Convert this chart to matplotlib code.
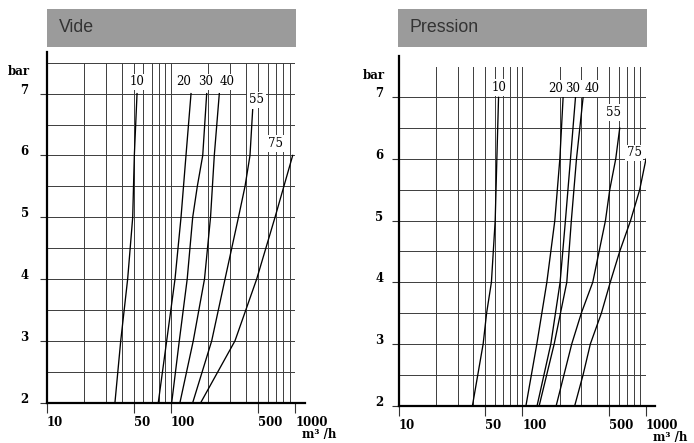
import matplotlib
matplotlib.use('Agg')
import matplotlib.pyplot as plt
from matplotlib.patches import Rectangle

# --- data (flow m3/h at pressure bar) ---
curve_names = ['10', '20', '30', '40', '55', '75']

vide_bar = [
    [2, 3, 4, 5, 6, 7],
    [2, 3, 4, 5, 6, 7],
    [2, 3, 4, 5, 5.5, 6, 7],
    [2, 3, 4, 5, 6, 7],
    [2, 3, 4, 5, 5.5, 6, 6.74],
    [2, 3, 4, 5, 6],
]
vide_flow = [
    [35.4, 39.4, 44.8, 49.2, 50.7, 53.3],
    [79, 92.3, 107.7, 120.4, 132, 144.9],
    [101.3, 116.6, 135, 149.5, 162.8, 180, 193.7],
    [118, 151, 186, 208, 223, 244.7],
    [149.5, 212.5, 272, 349, 394, 432, 454],
    [173.4, 327, 489, 687, 953],
]

pression_bar = [
    [2, 3, 3.5, 4, 5, 6, 7],
    [2, 3, 4, 5, 6, 7],
    [2, 3, 4, 5, 6, 7],
    [2, 3, 4, 5, 6, 7],
    [2, 3, 3.5, 4, 5, 5.5, 6, 6.5],
    [2, 2.5, 3, 3.5, 4, 4.5, 5, 5.5, 6],
]
pression_flow = [
    [39.5, 48.2, 51.4, 56.2, 60.3, 62.2, 64.2],
    [107, 131, 157.8, 183, 201, 213.6],
    [131.7, 170, 202, 223, 245, 269],
    [137, 181, 228.8, 249, 274, 310],
    [188, 251, 300, 371, 470, 509, 569, 613],
    [265.5, 310, 355, 436, 514, 613, 750, 889, 1000],
]

x_major = [10, 50, 100, 500, 1000]
x_minor = [20, 30, 40, 60, 70, 80, 90, 200, 300, 400, 600, 700, 800, 900]
y_major = [2, 3, 4, 5, 6, 7]
y_minor = [2.5, 3.5, 4.5, 5.5, 6.5, 7.5]

# label anchors for the curve numbers
vide_lbl_x = [53.7, 126, 191.3, 282, 487.5, 699]
vide_lbl_y = [7.19, 7.19, 7.19, 7.19, 6.9, 6.19]
pres_lbl_x = [65.2, 184.8, 255, 364, 541, 800]
pres_lbl_y = [7.16, 7.145, 7.145, 7.145, 6.75, 6.1]

W, H = 694, 443
SERIF = 'DejaVu Serif'


def px_rect(x0, x1, ytop, ybot):
    return [x0 / W, 1 - ybot / H, (x1 - x0) / W, (ybot - ytop) / H]


def draw_panel(fig, rect, title, box, bars, flows, lbl_x, lbl_y, ypad):
    ax = fig.add_axes(rect)
    ax.set_xscale('log')
    ax.set_xlim(10, 1000)
    ax.set_ylim(2, 7.5)
    for s in ax.spines.values():
        s.set_visible(False)

    ax.set_xticks(x_major)
    ax.set_xticks(x_minor, minor=True)
    ax.set_xticklabels([str(v) for v in x_major], family=SERIF, weight='bold', fontsize=8.5)
    ax.set_yticks(y_major)
    ax.set_yticks(y_minor, minor=True)
    ax.set_yticklabels([str(v) for v in y_major], family=SERIF, weight='bold', fontsize=8.5)
    ax.yaxis.set_minor_formatter(plt.NullFormatter())
    ax.xaxis.set_minor_formatter(plt.NullFormatter())
    for lab in ax.get_xticklabels():
        lab.set_ha('left')
    for lab in ax.get_yticklabels():
        lab.set_va('baseline')
    ax.tick_params(axis='x', which='major', length=7, width=0.8, color='#333333', pad=2.5)
    ax.tick_params(axis='y', which='major', length=5, width=0.8, color='#333333', pad=ypad)
    ax.tick_params(which='minor', length=0)
    ax.grid(which='both', color='#3c3c3c', lw=0.7)
    ax.set_axisbelow(True)

    # heavy axis lines, running past the grid
    ax.plot([10, 10], [2, 7.67], color='black', lw=1.6, clip_on=False, zorder=5)
    ax.plot([10, 1190], [2, 2], color='black', lw=1.6, clip_on=False, zorder=5)

    for name, b, q, lx, ly in zip(curve_names, bars, flows, lbl_x, lbl_y):
        ax.plot(q, b, color='black', lw=0.95, zorder=3)
        ax.text(lx, ly, name, family=SERIF, fontsize=8.5, ha='center', va='center', zorder=4,
                bbox=dict(boxstyle='square,pad=0.15', fc='white', ec='none'))

    ax.annotate('bar', xy=(0, 7.35), xycoords=('axes fraction', 'data'),
                xytext=(-ypad - 4, 0), textcoords='offset points',
                ha='right', va='center', family=SERIF, weight='bold', fontsize=8.5)
    ax.annotate('m³ /h', xy=(1, 0), xycoords='axes fraction',
                xytext=(5, -23), textcoords='offset points',
                ha='left', va='center', family=SERIF, weight='bold', fontsize=8.5,
                annotation_clip=False)

    bx0, bx1, by0, by1 = box
    fig.add_artist(Rectangle((bx0 / W, 1 - by1 / H), (bx1 - bx0) / W, (by1 - by0) / H,
                             transform=fig.transFigure, fc='#9b9b9b', ec='none'))
    fig.text((bx0 + 12) / W, 1 - ((by0 + by1) / 2) / H, title, color='#333333',
             family='Liberation Sans', fontsize=12.8, ha='left', va='center')
    return ax


fig = plt.figure(figsize=(W / 100, H / 100), dpi=100)
fig.patch.set_facecolor('white')

draw_panel(fig, px_rect(46.7, 295.3, 62.7, 402.7), 'Vide', (47, 296, 9, 46.7),
           vide_bar, vide_flow, vide_lbl_x, vide_lbl_y, ypad=8)
draw_panel(fig, px_rect(398.7, 646, 66.5, 405.5), 'Pression', (397.7, 647, 9, 46.7),
           pression_bar, pression_flow, pres_lbl_x, pres_lbl_y, ypad=6)

fig.savefig('out.png', dpi=100)
